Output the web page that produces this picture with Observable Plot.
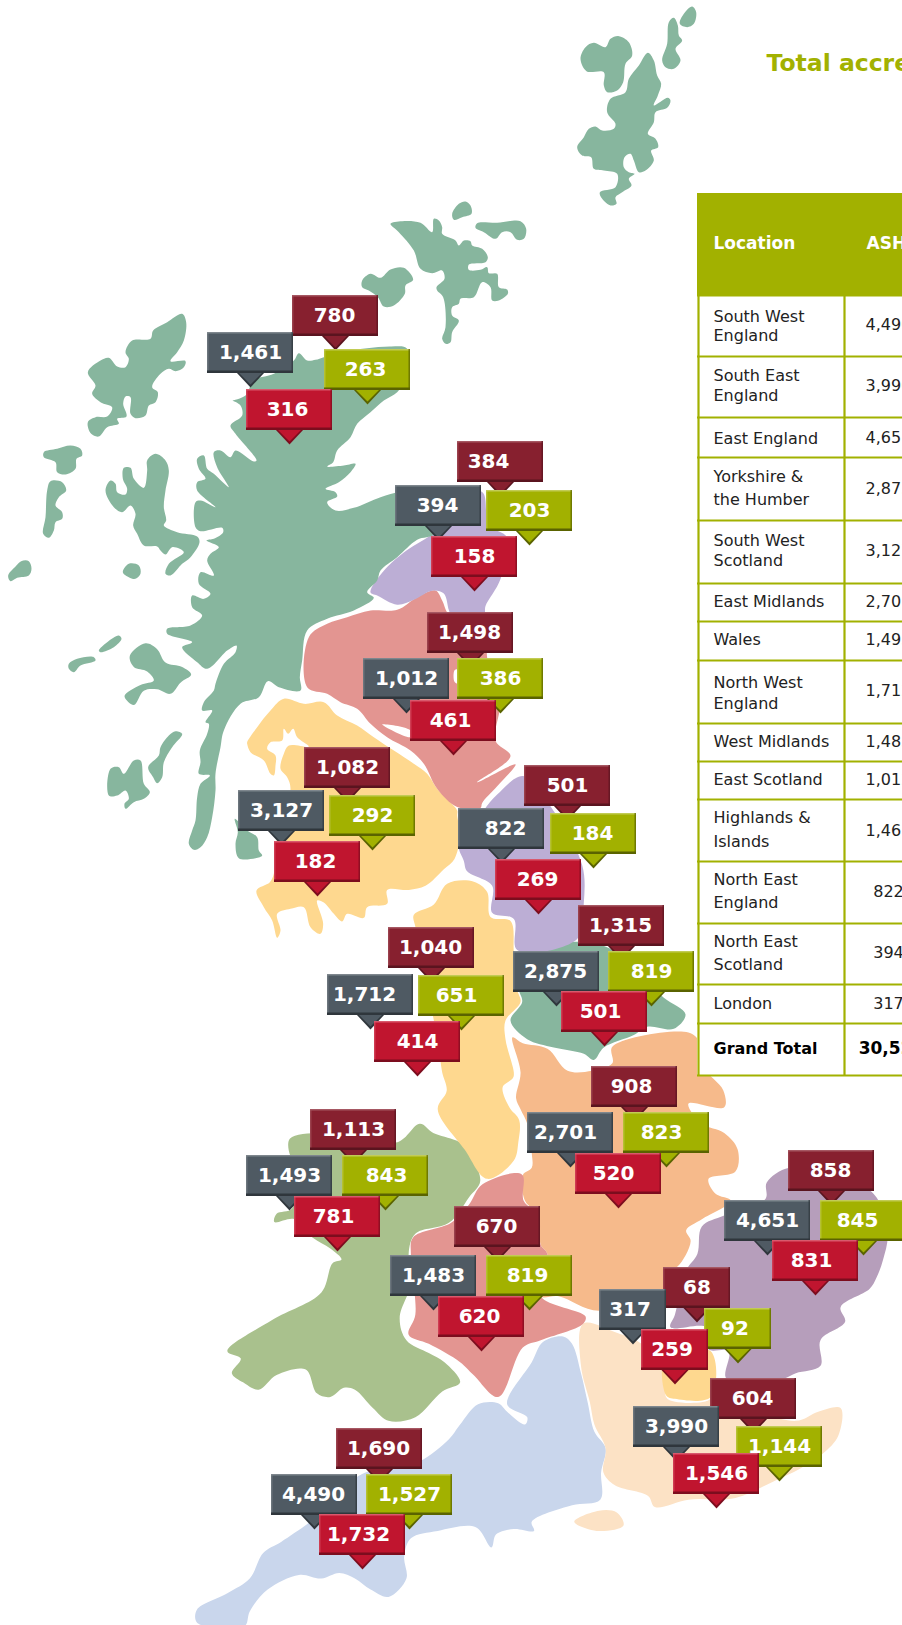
<!DOCTYPE html>
<html><head><meta charset="utf-8">
<script src="https://cdn.jsdelivr.net/npm/d3@7"></script>
<script src="https://cdn.jsdelivr.net/npm/@observablehq/plot@0.6"></script>
<style>html,body{margin:0;padding:0;background:#fff;overflow:hidden}svg{display:block}</style>
</head><body>
<script>
// ---------- data ----------
const regionNames = ["South West England","South East England","East England","Yorkshire & the Humber","South West Scotland","East Midlands","Wales","North West England","West Midlands","East Scotland","Highlands & Islands","North East England","North East Scotland","London"];
const totalValues  = [4490,3990,4651,2875,3127,2701,1493,1712,1483,1012,1461,822,394,317];
const maroonValues = [1690,604,858,1315,1082,908,1113,1040,670,1498,780,501,384,68];
const oliveValues  = [1527,1144,845,819,292,823,843,651,819,386,263,184,203,92];
const redValues    = [1732,1546,831,501,182,520,781,414,620,461,316,269,158,259];

// callout anchors, one per region, in map units (left, top)
const maroonAnchors = [[336,1428],[710,1378],[788,1150],[578,905],[304,747],[591,1066],[310,1109],[388,927],[454,1206],[427,612],[292,295],[524,765],[457,441],[663,1267]];
const totalAnchors  = [[271,1474],[633,1406],[724,1200],[513,951],[238,790],[527,1112],[246,1155],[327,974],[390,1255],[363,658],[207,332],[458,808],[395,485],[599,1289]];
const oliveAnchors  = [[366,1474],[736,1426],[820,1200],[608,951],[329,795],[623,1112],[342,1155],[418,975],[486,1255],[457,658],[324,349],[550,813],[486,490],[704,1308]];
const redAnchors    = [[319,1514],[673,1453],[772,1240],[561,991],[274,841],[575,1153],[294,1196],[374,1021],[438,1296],[410,700],[246,389],[495,859],[431,536],[641,1329]];
const narrowRegion = "London";
// horizontal nudge of each callout's number inside its box
const maroonNudge = [-1,-1,-1,-1,0,-3,0,-1,-1,-1,-1,0,-12,0];
const totalNudge  = [-1,0,0,-1,0,-5,0,-6,0,0,0,4,-1,-3];
const oliveNudge  = [0,0,-6,0,0,-5,1,-5,-2,0,-2,-1,0,-3];
const redNudge    = [-4,0,-4,-4,-2,-5,-4,0,-2,-3,-2,-1,0,-3];

// table
const tableLines = [["South West",316],["England",335],["South East",375],["England",395],["East England",438],["Yorkshire &",476],["the Humber",499],["South West",540],["Scotland",560],["East Midlands",601],["Wales",639],["North West",682],["England",703],["West Midlands",741],["East Scotland",779],["Highlands &",817],["Islands",841],["North East",879],["England",902],["North East",941],["Scotland",964],["London",1003]];
const tableTotals = [[4490,324],[3990,385],[4651,437],[2875,488],[3127,550],[2701,601],[1493,639],[1712,690],[1483,741],[1012,779],[1461,830],[822,891],[394,952],[317,1003]];
const rowRules = [295,356,417,457,520,583,621,660,723,761,799,861,923,984,1023,1075];

// map outlines in crop frames [x0,y0,sx,sy]
const F4=[190,280,3,3],F5=[0,200,3,2.24],F6=[200,1050,2.234,2.727],F7=[300,450,3,2.412],F8=[560,0,3,3],F9=[0,290,3,3],F10=[180,420,3,3],F11=[370,190,3,3],F12=[100,690,3,3];

const scotlandHighlands = [
 [[F8,[[262,157],[280,180],[290,225],[302,250],[292,285],[280,315],[322,292],[330,300],[320,322],[285,335],[280,365],[262,400],[285,415],[293,440],[272,450],[280,480],[255,510],[235,515],[220,480],[210,460],[192,470],[190,500],[205,515],[222,520],[205,535],[213,555],[185,575],[165,590],[168,610],[150,615],[125,595],[118,575],[165,560],[170,520],[130,510],[100,505],[92,470],[65,465],[50,440],[70,410],[85,385],[105,378],[125,390],[160,385],[165,370],[140,335],[150,295],[195,275],[205,235],[235,195]]]],
 [[F8,[[175,107],[205,125],[215,165],[195,190],[188,245],[170,270],[140,275],[130,255],[130,215],[78,212],[60,175],[75,140],[100,127],[135,140],[150,115]]]],
 [[F8,[[340,52],[352,75],[355,105],[365,120],[345,145],[360,180],[340,205],[315,200],[305,180],[320,130],[325,65]]]],
 [[F8,[[395,18],[407,35],[400,70],[380,80],[358,70],[370,40]]]],
 [[F11,[[60,100],[95,92],[150,97],[185,125],[190,85],[205,90],[215,110],[215,130],[255,150],[265,165],[280,150],[300,152],[305,165],[335,175],[352,200],[345,215],[295,222],[295,238],[330,238],[350,230],[355,248],[380,250],[385,290],[410,297],[412,310],[385,330],[365,330],[360,290],[335,275],[310,320],[270,325],[265,340],[245,350],[245,375],[265,390],[245,425],[240,455],[225,460],[215,445],[225,410],[218,320],[200,300],[198,290],[222,265],[215,240],[185,248],[150,235],[130,180],[85,125]]]],
 [[F11,[[285,33],[300,45],[303,70],[275,80],[250,88],[245,70],[265,40]]]],
 [[F11,[[320,98],[380,97],[450,92],[467,115],[460,145],[440,148],[420,125],[395,125],[375,145],[340,125],[315,112]]]],
 [[F11,[[-25,270],[0,250],[30,262],[60,237],[100,232],[128,268],[105,285],[103,310],[70,345],[40,348],[22,320],[-5,300],[-25,290]]]],
 [[F9,[[545,70],[557,95],[550,150],[530,185],[510,212],[555,212],[550,230],[525,242],[505,235],[480,250],[455,290],[472,305],[465,335],[445,345],[435,375],[405,383],[390,370],[390,320],[375,318],[368,340],[378,378],[350,385],[355,400],[320,410],[295,438],[272,430],[262,395],[285,380],[320,378],[335,350],[300,335],[275,310],[285,285],[262,245],[300,210],[325,202],[350,228],[375,230],[385,205],[375,185],[395,150],[450,145],[458,120],[500,95]]]],
 [[F9,[[130,485],[170,475],[210,465],[240,475],[245,495],[228,505],[225,535],[195,552],[170,545],[165,515],[130,500]]]],
 [[F9,[[150,572],[185,575],[197,600],[175,620],[165,645],[185,665],[185,685],[165,695],[160,720],[145,742],[128,730],[135,680],[140,600]]]],
 [[F9,[[465,490],[495,510],[505,540],[495,600],[490,650],[497,690],[490,705],[530,725],[590,738],[597,755],[570,800],[545,820],[510,855],[495,850],[505,820],[550,785],[515,770],[495,792],[480,780],[470,768],[430,765],[410,730],[398,705],[405,670],[390,645],[365,665],[340,650],[315,600],[330,570],[345,580],[350,605],[375,612],[380,595],[367,565],[370,532],[390,532],[400,565],[430,592],[440,540],[440,510]]]],
 [[F9,[[62,812],[85,812],[93,835],[85,855],[50,862],[30,872],[23,855],[45,828]]]],
 [[F9,[[385,820],[415,825],[420,850],[405,865],[385,860],[367,845]]]],
 [[F9,[[355,1035],[363,1045],[340,1070],[300,1085],[295,1080],[320,1055]]]],
 [[F9,[[230,1105],[280,1100],[285,1110],[240,1125],[220,1145],[205,1135],[205,1120]]]],
 [[F5,[[435,992],[470,1005],[495,1035],[545,1045],[572,1062],[540,1080],[510,1105],[470,1095],[430,1098],[400,1130],[372,1110],[420,1085],[460,1075],[440,1055],[400,1045],[388,1020]]]],
 [[F12,[[30,235],[55,230],[70,250],[100,210],[120,210],[130,280],[148,305],[130,325],[100,335],[75,355],[72,340],[85,325],[75,300],[50,315],[25,315]]]],
 [[F12,[[225,122],[245,130],[215,170],[190,215],[185,260],[170,278],[158,260],[143,230],[175,195],[180,170],[205,135]]]],
 [[F12,[[403,385],[440,420],[470,440],[475,480],[485,495],[465,503],[415,503],[405,460],[412,425]]]],
 [[F4,[[125,360],[165,345],[190,300],[250,280],[310,240],[325,218],[350,240],[375,238],[400,230],[450,215],[600,198],[650,205],[640,300],[620,335],[580,360],[540,395],[500,430],[480,470]]],
  [F10,[[470,90],[458,125],[440,138],[490,135],[525,130],[510,155],[475,185],[435,205],[465,215],[470,228],[440,245],[465,270],[520,262],[600,230],[660,215],[730,230],[760,340],[710,358],[650,410],[600,450],[590,480],[560,515],[580,532],[520,570],[440,595],[380,630],[365,720],[358,770],[360,810],[295,800],[262,782],[235,830],[180,850],[130,930],[120,980],[105,1060]]],
  [F12,[[345,300],[335,380],[320,440],[300,470],[280,478],[265,460],[275,420],[285,390],[290,320],[300,280],[328,255],[295,250],[300,215],[298,180],[320,130],[325,100],[315,95],[335,60],[305,60],[310,35],[340,0]]],
  [F10,[[105,790]]],
  [F9,[[670,1120],[705,1085],[708,1065],[680,1080],[620,1135],[590,1115],[545,1070],[575,1055],[500,1030],[500,1015],[570,1005],[605,975],[575,950],[575,915],[610,925],[630,910],[595,880],[600,845],[640,855],[620,810],[630,790],[655,770],[618,750],[640,745],[668,725],[665,712],[600,722],[585,710],[585,635],[600,630],[645,650],[590,600],[590,575],[615,565],[595,535],[590,505],[610,495],[620,535],[640,550],[685,590],[650,530],[640,485],[660,480],[690,500],[705,480],[760,513],[768,510],[705,430],[690,405],[725,375],[720,345],[695,330]]]]
];
const northEastScotland = [[[F7,[[210,342],[250,290],[320,240],[390,205],[460,160],[470,110],[545,100],[565,180],[620,210],[600,310],[555,375],[550,395],[450,392],[445,385],[430,345],[395,338],[340,360],[290,372],[230,350]]]]];
const eastScotland = [[[F10,[[385,650],[440,610],[500,590],[570,570],[650,568],[710,530],[765,510],[785,540],[800,575]]],[F7,[[450,395],[560,400],[560,500],[600,600],[585,700],[630,737],[530,800],[645,757],[590,810],[545,850],[540,862],[470,860]]],[F10,[[770,1105],[730,1030],[690,990],[620,950],[570,910],[530,865],[480,845],[440,820],[380,800]]]]];
const eastScotlandGaps = [[[F10,[[605,912],[690,930],[690,950]]]],[[F7,[[462,530],[472,528],[472,562],[462,558]]]]];
const southWestScotland = [[[F10,[[200,965],[230,920],[270,870],[310,835],[370,850],[430,845],[470,885],[530,915],[580,950],[640,990],[700,1030],[740,1060],[770,1105],[830,1170]]],[F7,[[470,880],[478,930],[462,985],[430,1010],[375,1050],[325,1060],[260,1060]]],[F12,[[860,640],[800,650],[790,682],[740,670],[725,693],[700,670],[670,636],[650,630],[668,700],[660,730],[630,710],[610,650],[570,655],[530,670],[540,720],[530,742],[515,690],[490,650],[468,600],[508,575],[520,550],[525,470],[570,295],[560,260],[540,235],[550,190],[565,165],[625,168],[590,140],[578,115],[563,130],[550,115],[545,150],[510,155],[500,175],[525,195],[525,225],[520,255],[510,250],[490,210],[450,185],[440,160]]]]];
const northEastEngland = [[[F7,[[555,862],[590,830],[668,785],[760,870],[845,1000],[850,1090],[830,1178],[650,1205],[640,1130],[575,1115],[575,1050],[500,1015],[490,990],[475,950]]]]];
const yorkshire = [[[F7,[[650,1212],[830,1185],[925,1200],[1000,1250],[1090,1320],[1155,1360],[1120,1395],[1040,1390],[1000,1410],[910,1440],[880,1470],[850,1455],[760,1440],[680,1420],[630,1375],[665,1330],[655,1300]]]]];
const northWestEngland = [[[F7,[[340,1120],[400,1095],[440,1045],[520,1040],[560,1065],[570,1125],[630,1135],[640,1210],[650,1300],[660,1330],[615,1375],[615,1420],[640,1500]]],[F6,[[698,75],[675,100],[690,155],[712,190],[710,250],[700,300],[640,350],[590,270],[530,160],[550,110],[540,60],[535,20]]],[F7,[[400,1375],[370,1250],[345,1150]]]]];
const eastMidlands = [[[F6,[[697,-36],[720,-20],[775,-5],[820,55],[875,55],[920,35],[920,-10],[1090,-49],[1117,-19],[1124,46],[1168,109],[1170,155],[1090,145],[1120,200],[1170,225],[1200,270],[1195,330],[1135,350],[1150,390],[1185,410],[1120,460],[1085,490],[1095,520],[1065,590],[1040,600],[1040,650],[890,710],[800,670],[760,670],[770,590],[775,555],[760,530],[755,450],[725,410],[720,340],[740,320],[740,280],[730,200],[715,160],[705,130],[715,60]]]]];
const eastEngland = [[[F6,[[1315,320],[1265,360],[1262,405],[1170,450],[1120,480],[1110,555],[1085,600],[1060,720],[1050,755],[1130,755],[1135,815],[1180,820],[1175,895],[1300,895],[1330,880],[1385,860],[1385,790],[1440,740],[1430,700],[1495,650],[1510,620],[1525,570],[1535,500],[1510,400],[1440,340]]]]];
const london = [[[F6,[[1040,830],[1140,820],[1140,945],[1060,950],[1040,940]]]]];
const southEastEngland = [[[F6,[[855,745],[930,770],[985,800],[1040,880],[1040,945],[1060,958],[1140,950],[1140,900],[1200,960],[1330,1010],[1380,985],[1430,975],[1425,1050],[1390,1100],[1340,1140],[1280,1175],[1195,1220],[1090,1225],[1015,1245],[1000,1215],[925,1185],[900,1150],[905,1085],[880,1020],[870,960],[850,860]]]],[[F6,[[835,1285],[890,1255],[930,1260],[945,1295],[885,1310]]]]];
const wales = [[[F6,[[200,240],[300,225],[440,250],[490,200],[520,225],[570,245],[590,260],[625,355],[600,400],[555,470],[480,500],[465,555],[475,620],[445,730],[460,790],[510,825],[545,850],[580,905],[540,930],[480,1000],[420,1010],[385,975],[345,925],[320,920],[290,945],[260,935],[235,870],[170,885],[130,925],[95,905],[70,880],[90,840],[60,820],[160,735],[270,660],[295,580],[315,570],[290,540],[250,510],[210,460],[165,468],[170,445],[205,430],[210,300],[200,285]]]]];
const westMidlands = [[[F6,[[718,338],[722,410],[755,450],[760,530],[775,555],[770,590],[760,670],[860,725],[855,745],[760,790],[720,810],[665,945],[610,885],[580,850],[510,800],[465,775],[480,720],[470,560],[475,510],[560,470],[600,420],[630,365]]]]];
const southWestEngland = [[[F6,[[810,780],[830,800],[850,880],[865,960],[880,1040],[905,1085],[895,1150],[893,1225],[830,1240],[740,1285],[745,1310],[700,1305],[660,1320],[650,1355],[615,1300],[530,1310],[470,1330],[455,1380],[460,1440],[420,1490],[380,1470],[345,1440],[310,1425],[270,1440],[220,1430],[150,1470],[110,1530],[100,1568],[60,1575],[-8,1560],[-8,1525],[60,1480],[110,1440],[140,1370],[180,1340],[240,1290],[260,1270],[300,1210],[370,1150],[430,1140],[490,1120],[555,1060],[580,1020],[620,965],[665,962],[685,985],[725,1020],[730,1000],[685,965],[740,850],[765,795]]]]];

// ---------- styles ----------
const green="#87b69e",lilac="#bcaed5",pink="#e39591",yellow="#fed88f",orange="#f6ba8b",mauve="#b69ebb",peach="#fce2c5",blue="#c9d6ec",walesGreen="#a9c18d",tableOlive="#a2b100";
const mapLayers = [[southWestEngland,blue],[southEastEngland,peach],[london,yellow],[eastEngland,mauve],[eastMidlands,orange],[westMidlands,pink],[wales,walesGreen],[northWestEngland,yellow],[yorkshire,green],[northEastEngland,lilac],[southWestScotland,yellow],[eastScotland,pink],[eastScotlandGaps,"#ffffff"],[northEastScotland,lilac],[scotlandHighlands,green]];
const palettes = [
 {values:maroonValues,anchors:maroonAnchors,nudge:maroonNudge,fill:"#87202f",hi:"#a65863",lo:"#5a141f"},
 {values:totalValues, anchors:totalAnchors, nudge:totalNudge, fill:"#4f5a63",hi:"#7f878e",lo:"#2f363c"},
 {values:oliveValues, anchors:oliveAnchors, nudge:oliveNudge, fill:"#a2b100",hi:"#c2cc55",lo:"#5a6300"},
 {values:redValues,   anchors:redAnchors,   nudge:redNudge,   fill:"#c0152f",hi:"#d9596d",lo:"#7c0d1e"}
];
const uiFont="DejaVu Sans";

function outline(shapes){
  return shapes.flatMap((segments,part)=>segments.flatMap(([[x0,y0,sx,sy],pts])=>pts.map(([a,b])=>({part,x:x0+a/sx,y:y0+b/sy}))));
}
const mapMarks = mapLayers.map(([shapes,fill])=>Plot.line(outline(shapes),{x:"x",y:"y",z:"part",fill,stroke:"none",curve:"catmull-rom-closed"}));

const tableMarks = [
  Plot.rect([0],{x1:()=>697,x2:()=>902,y1:()=>193,y2:()=>1076,fill:"#ffffff"}),
  Plot.rect([0],{x1:()=>697,x2:()=>902,y1:()=>193,y2:()=>295,fill:tableOlive}),
  Plot.ruleY(rowRules,{x1:697,x2:902,y:d=>d,stroke:tableOlive,strokeWidth:2.2}),
  Plot.ruleX([698,844],{x:d=>d,y1:295,y2:1076,stroke:tableOlive,strokeWidth:2.2}),
  Plot.text(["Location"],{x:()=>713,y:()=>243,text:d=>d,textAnchor:"start",fill:"#fff",fontWeight:"bold",fontSize:17,fontFamily:uiFont}),
  Plot.text(["ASHP"],{x:()=>866,y:()=>243,text:d=>d,textAnchor:"start",fill:"#fff",fontWeight:"bold",fontSize:17,fontFamily:uiFont}),
  Plot.text(tableLines,{x:()=>713,y:d=>d[1],text:d=>d[0],textAnchor:"start",fill:"#222",fontSize:16,fontFamily:uiFont}),
  Plot.text(tableTotals,{x:()=>888,y:d=>d[1],text:d=>d3.format(",")(d[0]),fill:"#222",fontSize:16,fontFamily:uiFont}),
  Plot.text(["Grand Total"],{x:()=>713,y:()=>1048,text:d=>d,textAnchor:"start",fill:"#000",fontWeight:"bold",fontSize:16,fontFamily:uiFont}),
  Plot.text([d3.sum(totalValues)],{x:()=>891,y:()=>1048,text:d=>d3.format(",")(d),fill:"#000",fontWeight:"bold",fontSize:17,fontFamily:uiFont}),
  Plot.text(["Total accreditations"],{x:()=>766,y:()=>63,text:d=>d,textAnchor:"start",fill:tableOlive,fontWeight:"bold",fontSize:23.5,fontFamily:uiFont})
];

const H=41, TIP=14, TW=14;
const calloutMarks = palettes.flatMap(p=>{
  const boxes = p.values.map((v,i)=>{
    const w = regionNames[i]===narrowRegion ? 67 : 86;
    const [l,t] = p.anchors[i];
    return {v,l,t,r:l+w,b:t+H,c:l+w/2,n:p.nudge[i]};
  });
  const tri = (dy,shrink)=>boxes.flatMap((d,id)=>[
    {id,x:d.c-TW+shrink,y:d.b-1},{id,x:d.c+TW-shrink,y:d.b-1},{id,x:d.c,y:d.b+TIP-dy}]);
  return [
    Plot.line(tri(0,0),{x:"x",y:"y",z:"id",fill:p.lo,stroke:"none",curve:"linear-closed"}),
    Plot.line(tri(3,2),{x:"x",y:"y",z:"id",fill:p.fill,stroke:"none",curve:"linear-closed"}),
    Plot.rect(boxes,{x1:"l",x2:"r",y1:"t",y2:"b",fill:p.fill}),
    Plot.rect(boxes,{x1:"l",x2:"r",y1:"t",y2:d=>d.t+1.5,fill:p.hi}),
    Plot.rect(boxes,{x1:"l",x2:d=>d.l+1.5,y1:"t",y2:"b",fill:p.hi,fillOpacity:.6}),
    Plot.rect(boxes,{x1:d=>d.r-1.5,x2:"r",y1:"t",y2:"b",fill:p.lo,fillOpacity:.7}),
    Plot.rect(boxes,{x1:"l",x2:"r",y1:d=>d.b-2.5,y2:"b",fill:p.lo}),
    Plot.text(boxes,{x:d=>d.c+d.n,y:d=>d.t+H/2,text:d=>d3.format(",")(d.v),fill:"#fff",fontWeight:"bold",fontSize:20,fontFamily:uiFont})
  ];
});

document.body.appendChild(Plot.plot({
  width:902,height:1625,margin:0,
  style:{background:"#fff"},
  x:{domain:[0,902],range:[0,902],axis:null},
  y:{domain:[0,1625],range:[0,1625],axis:null},
  marks:[...mapMarks,...tableMarks,...calloutMarks]
}));
</script>
</body></html>
